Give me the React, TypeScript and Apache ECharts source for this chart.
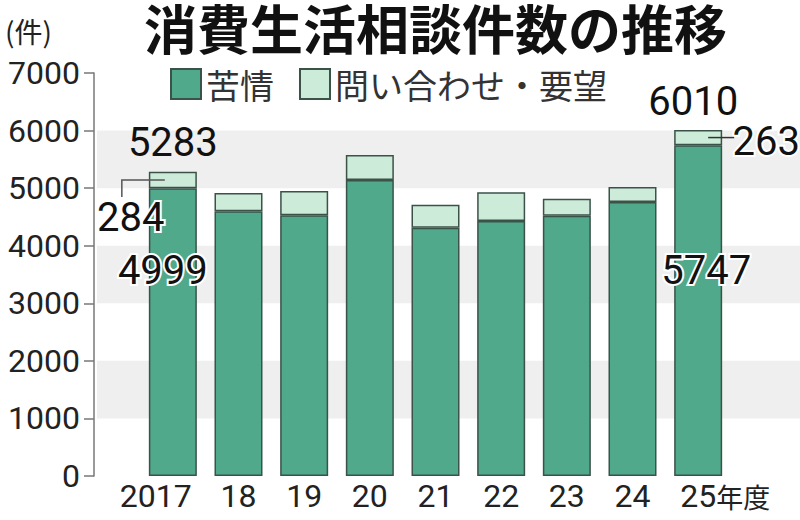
import { useEffect, useRef } from "react"
import * as echarts from "echarts"

const years = ["2017", "18", "19", "20", "21", "22", "23", "24", "25"]
const complaints = [4999, 4600, 4530, 5140, 4310, 4430, 4520, 4760, 5747]
const inquiries = [284, 315, 420, 435, 400, 500, 295, 260, 263]
const yTicks = { min: 0, max: 7000, interval: 1000 }
const labelled = [0, 8]

const NUM_FONT = "Roboto, 'Noto Sans CJK JP', sans-serif"
const JP_FONT = "'Noto Sans CJK JP', sans-serif"
const GREEN = "#4fa98a"
const LIGHT = "#cdebd9"
const EDGE = "#3b5249"

export default function App() {
  const chartRef = useRef<HTMLDivElement>(null)

  useEffect(() => {
    document.body.style.margin = "0"
    if (!chartRef.current) return
    const chart = echarts.init(chartRef.current, null, { renderer: "svg" })

    const valueLabel = {
      show: true,
      fontSize: 40,
      fontFamily: NUM_FONT,
      color: "#111",
      textBorderColor: "#fff",
      textBorderWidth: 4,
      align: "center",
      verticalAlign: "middle",
    }

    // ラベル位置（棒の左上からの相対位置）
    const complaintPos: Record<number, number[]> = { 0: [14, 82], 8: [32, 125] }
    const inquiryPos: Record<number, number[]> = { 0: [-18, 46], 8: [92, 12] }

    const option = {
      animation: false,
      title: [
        {
          text: "消費生活相談件数の推移",
          left: 144,
          top: 0,
          padding: 0,
          textStyle: {
            fontSize: 53,
            lineHeight: 54,
            fontWeight: "bold",
            fontFamily: JP_FONT,
            color: "#111",
          },
        },
        {
          text: "(件)",
          left: 0,
          top: 12,
          textStyle: { fontSize: 28, fontWeight: "normal", fontFamily: JP_FONT, color: "#222" },
        },
      ],
      legend: {
        data: ["苦情", "問い合わせ・要望"],
        left: 170,
        top: 67,
        padding: 0,
        icon: "rect",
        itemWidth: 30,
        itemHeight: 30,
        itemGap: 25,
        textStyle: { fontSize: 34, fontFamily: JP_FONT, color: "#333" },
      },
      grid: [
        { left: 140, right: 69, top: 73, bottom: 44 },
        { left: 97, right: 0, top: 73, bottom: 44 },
      ],
      xAxis: [
        {
          type: "category",
          gridIndex: 0,
          data: years.map((y, i) => {
            if (i === 0) return { value: y, textStyle: { padding: [0, 34, 0, 0] } }
            if (i === years.length - 1) return { value: y, textStyle: { padding: [0, 0, 0, 54] } }
            return y
          }),
          axisLine: { show: false },
          axisTick: { show: false },
          axisLabel: {
            interval: 0,
            hideOverlap: false,
            fontSize: 32,
            fontFamily: NUM_FONT,
            color: "#222",
            margin: 4,
            formatter: (v: string) => (v === "25" ? "25{u|年度}" : v),
            rich: { u: { fontSize: 27, fontFamily: JP_FONT, color: "#222" } },
          },
        },
        { type: "value", gridIndex: 1, show: false },
      ],
      yAxis: [
        {
          type: "value",
          gridIndex: 0,
          ...yTicks,
          offset: 46,
          axisLine: { show: true, lineStyle: { color: "#777", width: 1.5 } },
          axisTick: { show: true, length: 10, lineStyle: { color: "#777", width: 1.5 } },
          axisLabel: {
            fontSize: 32,
            fontFamily: NUM_FONT,
            color: "#222",
            margin: 14,
            formatter: (v: number) => String(v),
          },
          splitLine: { show: false },
        },
        {
          type: "value",
          gridIndex: 1,
          ...yTicks,
          axisLine: { show: false },
          axisTick: { show: false },
          axisLabel: { show: false },
          splitLine: { show: false },
          splitArea: { show: true, areaStyle: { color: ["rgba(0,0,0,0)", "#efefef"] } },
        },
      ],
      series: [
        {
          name: "苦情",
          type: "bar",
          stack: "total",
          xAxisIndex: 0,
          yAxisIndex: 0,
          barWidth: 48,
          itemStyle: { color: GREEN, borderColor: EDGE, borderWidth: 1.5 },
          data: complaints.map((v, i) =>
            labelled.includes(i)
              ? { value: v, label: { ...valueLabel, position: complaintPos[i], formatter: String(v) } }
              : v
          ),
        },
        {
          name: "問い合わせ・要望",
          type: "bar",
          stack: "total",
          xAxisIndex: 0,
          yAxisIndex: 0,
          barWidth: 48,
          itemStyle: { color: LIGHT, borderColor: EDGE, borderWidth: 1.5 },
          data: inquiries.map((v, i) =>
            labelled.includes(i)
              ? { value: v, label: { ...valueLabel, position: inquiryPos[i], formatter: String(v) } }
              : v
          ),
          markPoint: {
            symbol: "rect",
            symbolSize: 0,
            label: {
              show: true,
              position: "top",
              distance: 9,
              fontSize: 40,
              fontFamily: NUM_FONT,
              color: "#111",
              formatter: (p: any) => String(p.value),
            },
            data: labelled.map((i) => ({
              coord: [i, complaints[i] + inquiries[i]],
              value: complaints[i] + inquiries[i],
              label: i === 8 ? { offset: [-5, 0] } : {},
            })),
          },
        },
      ],
    }

    chart.setOption(option)

    // 引き出し線
    const mid = (i: number) =>
      chart.convertToPixel({ gridIndex: 0 }, [i, complaints[i] + inquiries[i] / 2]) as number[]
    const [ax, ay] = mid(0)
    const [bx, by] = mid(8)
    chart.setOption({
      graphic: [
        {
          type: "polyline",
          shape: { points: [[ax - 8, ay], [ax - 51, ay], [ax - 51, ay + 17]] },
          style: { stroke: "#555", lineWidth: 1.5, fill: "none" },
          z: 10,
        },
        {
          type: "line",
          shape: { x1: bx + 10, y1: by, x2: bx + 36, y2: by },
          style: { stroke: "#333", lineWidth: 1.5 },
          z: 10,
        },
      ],
    })

    const handleResize = () => chart.resize()
    window.addEventListener("resize", handleResize)
    return () => {
      window.removeEventListener("resize", handleResize)
      chart.dispose()
    }
  }, [])

  return <div ref={chartRef} style={{ width: 800, height: 520 }} />
}
